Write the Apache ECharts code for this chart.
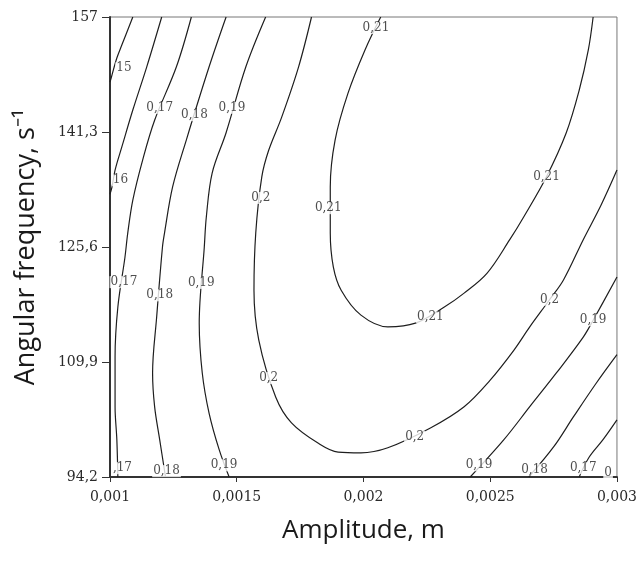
<!DOCTYPE html>
<html>
<head>
<meta charset="utf-8">
<script src="https://cdn.jsdelivr.net/npm/echarts@6/dist/echarts.min.js"></script>
<style>
  html, body { margin: 0; padding: 0; background: #fff; }
  #main { width: 640px; height: 563px; }
</style>
</head>
<body>
<div id="main"></div>
<script>
// axis ranges (amplitude in m, angular frequency in 1/s)
var xRange = [0.001, 0.003];
var xStep = 0.0005;
var yRange = [94.2, 157];
var yStep = 15.7;

// contour lines, points as [amplitude, frequency]
var level015 = [[0.001090, 157.0], [0.001047, 153.2], [0.001027, 151.4], [0.001008, 149.1], [0.001000, 148.1]];
var level016 = [[0.001204, 157.0], [0.001145, 150.2], [0.001090, 144.3], [0.001047, 139.3], [0.001020, 136.1], [0.001008, 133.8], [0.001000, 132.8]];
var level017 = [[0.001321, 157.0], [0.001262, 150.2], [0.001176, 142.9], [0.001129, 137.5], [0.001090, 132.0], [0.001070, 127.5],
  [0.001059, 124.2], [0.001031, 117.4], [0.001020, 110.6], [0.001020, 103.8], [0.001027, 99.3], [0.001031, 94.2]];
var level018 = [[0.001458, 157.0], [0.001391, 150.2], [0.001301, 140.2], [0.001247, 133.8], [0.001215, 127.5], [0.001207, 125.6],
  [0.001184, 116.0], [0.001168, 108.4], [0.001176, 103.8], [0.001196, 99.3], [0.001219, 94.2]];
var level019 = [[0.001614, 157.0], [0.001536, 150.2], [0.001458, 141.2], [0.001403, 135.7], [0.001380, 129.7], [0.001372, 125.6],
  [0.001352, 115.2], [0.001364, 108.4], [0.001391, 102.9], [0.001431, 97.9], [0.001470, 94.2]];
var level020 = [[0.001795, 157.0], [0.001744, 150.2], [0.001677, 143.3], [0.001626, 138.8], [0.001599, 135.2], [0.001575, 127.5],
  [0.001568, 119.7], [0.001587, 112.9], [0.001654, 105.1], [0.001716, 101.6], [0.001822, 98.8], [0.001900, 97.6],
  [0.001990, 97.5], [0.002096, 98.2], [0.002264, 100.9], [0.002397, 103.8], [0.002499, 107.4], [0.002593, 111.5],
  [0.002656, 114.7], [0.002734, 118.4], [0.002789, 121.1], [0.002867, 126.6], [0.002937, 131.3], [0.003000, 136.1]];
var level021 = [[0.002068, 157.0], [0.002006, 152.5], [0.001939, 146.6], [0.001888, 140.2], [0.001869, 133.8], [0.001869, 127.5],
  [0.001881, 122.9], [0.001912, 119.7], [0.001990, 116.3], [0.002096, 114.7], [0.002205, 115.2], [0.002319, 117.4],
  [0.002397, 119.3], [0.002487, 122.0], [0.002577, 126.6], [0.002632, 129.7], [0.002722, 135.2], [0.002800, 141.2],
  [0.002851, 147.0], [0.002887, 152.5], [0.002906, 157.0]];
var level019right = [[0.003000, 121.5], [0.002906, 115.6], [0.002867, 113.3], [0.002761, 108.4], [0.002656, 103.8], [0.002554, 99.3], [0.002421, 94.2]];
var level018right = [[0.003000, 110.9], [0.002918, 107.0], [0.002828, 102.4], [0.002750, 98.3], [0.002652, 94.2]];
var level017right = [[0.003000, 102.0], [0.002945, 99.3], [0.002890, 96.9], [0.002851, 94.2]];

// in-line labels [amplitude, frequency, text]
var contourLabels = [
  [0.001055, 150.0, '15'], [0.001041, 134.7, '16'],
  [0.001196, 144.6, '0,17'], [0.001333, 143.6, '0,18'], [0.001481, 144.6, '0,19'],
  [0.001595, 132.3, '0,2'], [0.002049, 155.5, '0,21'], [0.001861, 130.9, '0,21'], [0.002722, 135.2, '0,21'],
  [0.001055, 120.8, '0,17'], [0.001196, 119.0, '0,18'], [0.001360, 120.7, '0,19'],
  [0.001626, 107.7, '0,2'], [0.002264, 116.0, '0,21'], [0.002734, 118.4, '0,2'], [0.002906, 115.6, '0,19'],
  [0.002202, 99.7, '0,2'],
  [0.001049, 95.4, ',17'], [0.001223, 95.0, '0,18'], [0.001450, 95.8, '0,19'],
  [0.002456, 95.8, '0,19'], [0.002675, 95.2, '0,18'], [0.002867, 95.4, '0,17'], [0.002965, 94.8, '0']
];

var contourLines = [level015, level016, level017, level018, level019, level020, level021,
  level019right, level018right, level017right];

function commaNum(v) {
  return String(+v.toFixed(5)).replace('.', ',');
}

var series = contourLines.map(function (pts) {
  return {
    type: 'line',
    data: pts,
    smooth: 0.35,
    showSymbol: false,
    silent: true,
    lineStyle: { color: '#1e1e1e', width: 1.2 },
    z: 2
  };
});

series.push({
  type: 'scatter',
  data: contourLabels,
  symbolSize: 1,
  itemStyle: { color: 'rgba(0,0,0,0)' },
  silent: true,
  z: 5,
  label: {
    show: true,
    position: 'inside',
    formatter: function (p) { return p.value[2]; },
    fontFamily: 'DejaVu Serif',
    fontSize: 12,
    color: '#222',
    backgroundColor: '#fff',
    padding: [0, 1]
  }
});

var chart = echarts.init(document.getElementById('main'));
chart.setOption({
  animation: false,
  backgroundColor: '#fff',
  grid: {
    left: 110, right: 19, top: 17, bottom: 86,
    show: true, borderColor: '#777', borderWidth: 1
  },
  xAxis: {
    type: 'value',
    min: xRange[0], max: xRange[1], interval: xStep,
    name: 'Amplitude, m',
    nameLocation: 'middle',
    nameGap: 41,
    nameTextStyle: { fontFamily: 'Open Sans', fontSize: 26, color: '#1a1a1a' },
    axisLine: { show: true, lineStyle: { color: '#333', width: 2 } },
    axisTick: { show: true, inside: false, length: 5, lineStyle: { color: '#333' } },
    axisLabel: { margin: 13, fontFamily: 'DejaVu Serif', fontSize: 14, color: '#2a2a2a', formatter: commaNum },
    splitLine: { show: false }
  },
  yAxis: {
    type: 'value',
    min: yRange[0], max: yRange[1], interval: yStep,
    name: 'Angular frequency, s\u207B\u00B9',
    nameLocation: 'middle',
    nameGap: 70,
    nameTextStyle: { fontFamily: 'Open Sans', fontSize: 27, color: '#1a1a1a' },
    axisLine: { show: true, lineStyle: { color: '#333', width: 2 } },
    axisTick: { show: true, inside: false, length: 8, lineStyle: { color: '#333' } },
    axisLabel: { margin: 12, fontFamily: 'DejaVu Serif', fontSize: 14, color: '#2a2a2a', formatter: commaNum },
    splitLine: { show: false }
  },
  series: series
});
</script>
</body>
</html>
